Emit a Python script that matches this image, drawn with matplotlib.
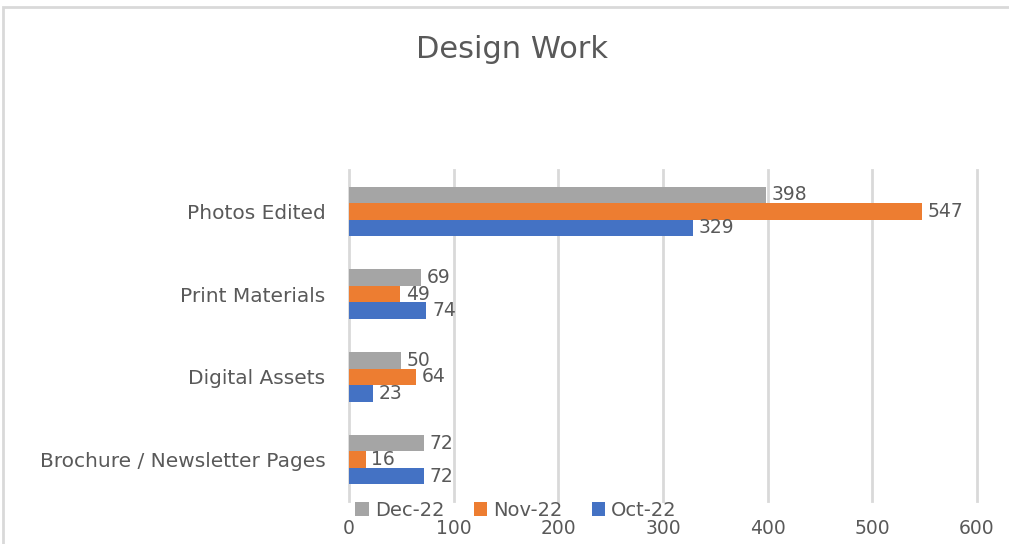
import numpy as np
import matplotlib.pyplot as plt
from matplotlib.patches import Rectangle

# data
categories = ["Brochure / Newsletter Pages", "Digital Assets", "Print Materials", "Photos Edited"]
series_names = ["Dec-22", "Nov-22", "Oct-22"]
dec_22 = [72, 50, 69, 398]
nov_22 = [16, 64, 49, 547]
oct_22 = [72, 23, 74, 329]
x_ticks = [0, 100, 200, 300, 400, 500, 600]

colors = ["#A5A5A5", "#ED7D31", "#4472C4"]
text_col = "#595959"
plt.rcParams["font.family"] = ["DejaVu Sans"]

fig = plt.figure(figsize=(10.09, 5.44), dpi=100)
ax = fig.add_axes([349 / 1009, 1 - 501 / 544, 628 / 1009, 331 / 544])

y = np.arange(len(categories))
h = 0.2
offsets = [h, 0, -h]
for vals, name, col, off in zip([dec_22, nov_22, oct_22], series_names, colors, offsets):
    bars = ax.barh(y + off, vals, height=h, color=col, label=name, zorder=3)
    ax.bar_label(bars, padding=4, color=text_col, fontsize=13.5)

ax.set_xlim(0, 600)
ax.set_ylim(-0.5, 3.5)
ax.set_xticks(x_ticks)
ax.set_yticks(y)
ax.set_yticklabels(categories, fontsize=14.5)
ax.tick_params(axis="both", length=0, colors=text_col)
ax.tick_params(axis="x", labelsize=13.5, pad=13)
ax.tick_params(axis="y", pad=17)
ax.grid(axis="x", color="#D9D9D9", linewidth=2, zorder=0)
for gl in ax.get_xgridlines():
    gl.set_clip_on(False)
for s in ax.spines.values():
    s.set_visible(False)

fig.text(512 / 1009, 1 - 50 / 544, "Design Work", ha="center", va="center",
         fontsize=22, color=text_col)

fig.legend(loc="center", bbox_to_anchor=(516 / 1009, 1 - 510 / 544), ncol=3,
           frameon=False, fontsize=14, labelcolor=text_col, handlelength=0.7,
           handleheight=0.7, handletextpad=0.3, columnspacing=1.5)

# light chart-area border (top and left edges visible)
fig.patches.append(Rectangle((3 / 1009, -0.1), 1.2, 1.1 - 7 / 544,
                             transform=fig.transFigure, fill=False,
                             edgecolor="#D9D9D9", linewidth=2))

fig.savefig("out.png", dpi=100)
